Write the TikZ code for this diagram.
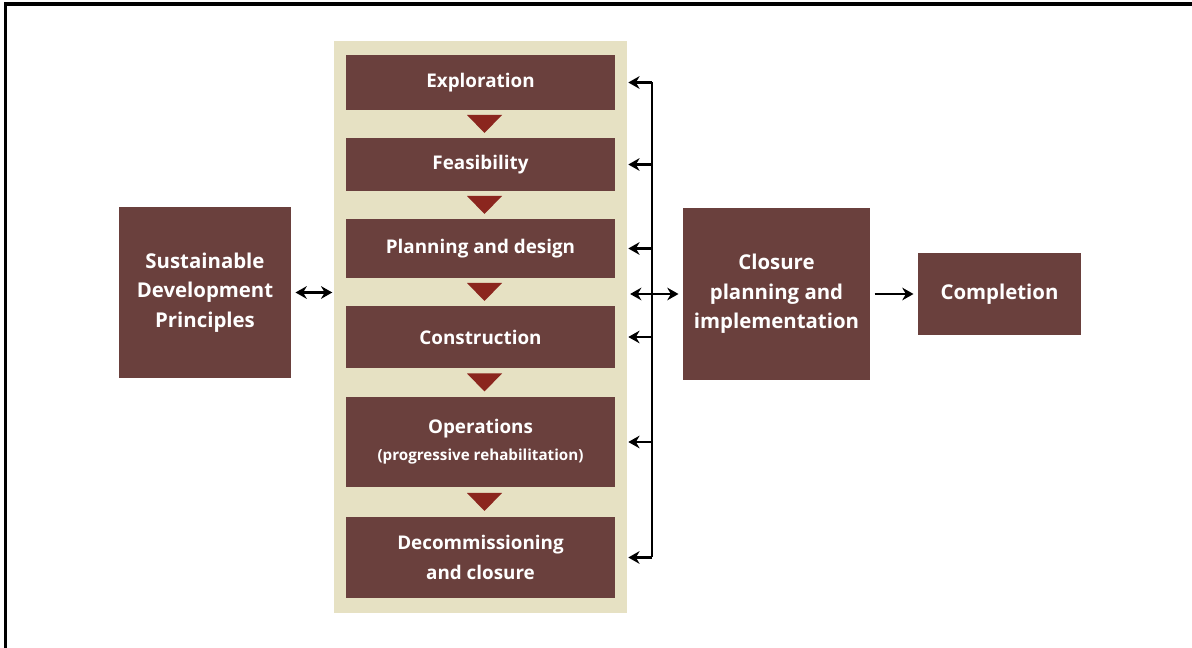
\documentclass[tikz,border=0pt]{standalone}
\usepackage{fontspec}
\setmainfont{Open Sans}
\usetikzlibrary{arrows.meta, positioning, calc}
\definecolor{stagebrown}{HTML}{6A403D}
\definecolor{panelbeige}{HTML}{E6E1C3}
\definecolor{triared}{HTML}{8B261E}

\begin{document}
\begin{tikzpicture}[
    x=0.025cm, y=-0.025cm,
    box/.style={fill=stagebrown, draw=none, text=white, align=center, inner sep=0pt, font=\fontsize{14.5}{21}\selectfont\bfseries},
    stage/.style={box, minimum width=6.725cm, font=\fontsize{13.4}{21}\selectfont\bfseries},
    arrow/.style={-{Stealth[length=8pt, width=9pt]}, line width=1.5pt},
    twoway/.style={{Stealth[length=8pt, width=9pt]}-{Stealth[length=8pt, width=9pt]}, line width=1.5pt},
]
\useasboundingbox (0,0) rectangle (1192,648);

% Frame
\draw[line width=2.2pt] (5.5,648) -- (5.5,4) -- (1192,4);

% Life-cycle panel
\node[fill=panelbeige, minimum width=7.325cm, minimum height=14.3cm, inner sep=0pt] (panel) at (480.5, 327) {};

% Stages
\node[stage, minimum height=1.375cm] (expl) at (480.5, 82.5) {Exploration};
\node[stage, minimum height=1.325cm] (feas) at (480.5, 164.5) {Feasibility};
\node[stage, minimum height=1.475cm] (plan) at (480.5, 248.5) {Planning and design};
\node[stage, minimum height=1.55cm] (cons) at (480.5, 337) {Construction};
\node[stage, minimum height=2.25cm] (oper) at (480.5, 442) {Operations\\[-2pt]{\fontsize{10.8}{14}\selectfont(progressive rehabilitation)}};
\node[stage, minimum height=2.025cm] (decom) at (480.5, 557.5) {Decommissioning\\and closure};

% Flow triangles between stages
\foreach \a/\b in {expl/feas, feas/plan, plan/cons, cons/oper, oper/decom}
    \fill[triared] ($(\a.south)!0.5!(\b.north)+(-13.5,-9)$) -- ++(35,0) -- ++(-17.5,18) -- cycle;

% Side boxes
\node[box, minimum width=4.3cm, minimum height=4.275cm] (sdp) at (205, 292.5) {Sustainable\\Development\\Principles};
\node[box, minimum width=4.675cm, minimum height=4.3cm] (closure) at (776.5, 294) {Closure\\planning and\\implementation};
\node[box, minimum width=4.075cm, minimum height=2.05cm] (done) at (999.5, 294) {Completion};

% Arrows
\draw[twoway, shorten <=3pt, shorten >=1pt] (sdp.east) -- (panel.west |- sdp);
\draw[twoway, shorten <=2pt, shorten >=3pt] (panel.east |- closure) -- (closure.west);
\draw[arrow, shorten <=3pt, shorten >=3pt] (closure) -- (done);

% Feedback bus to every stage
\coordinate (bustop) at (652, 82.5);
\coordinate (busbot) at (652, 557.5);
\draw[line width=1.5pt] (bustop) -- (busbot);
\foreach \s in {expl, feas, plan, cons, oper, decom}
    \draw[arrow] (bustop |- \s) -- ($(panel.east |- \s)+(1,0)$);

\end{tikzpicture}
\end{document}
